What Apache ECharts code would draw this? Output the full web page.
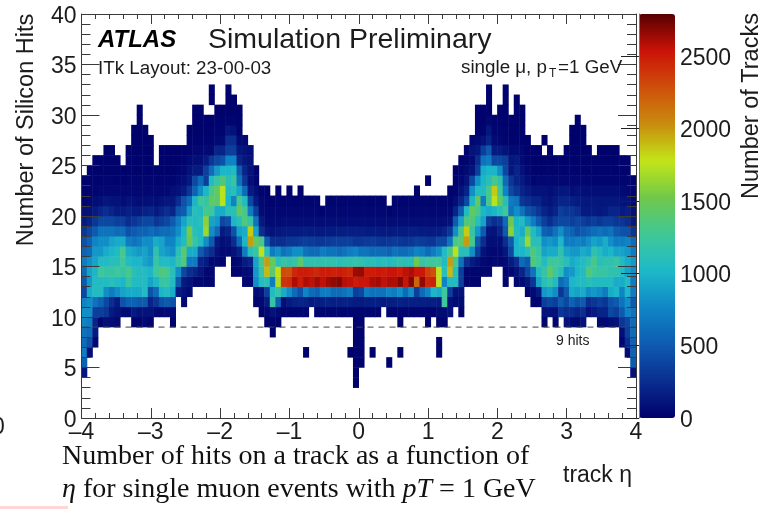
<!DOCTYPE html>
<html><head><meta charset="utf-8">
<style>html,body{margin:0;padding:0;background:#fff}#c{width:762px;height:509px}</style>
<script src="https://cdn.jsdelivr.net/npm/echarts@6/dist/echarts.min.js"></script></head>
<body><div id="c"></div>
<script>
// each full row lists 100 eta bins (width 0.08) from eta=-4; pair rows list [bin,count]
const row32=[[23,12],[26,12],[73,12],[76,12]];
const row31=[[23,12],[26,12],[27,12],[73,12],[76,12],[78,12]];
const row30=[[10,10],[20,12],[21,12],[24,15],[25,15],[26,15],[27,15],[28,12],[71,12],[72,12],[73,15],[75,15],[76,15],[78,12],[79,10]];
const row29=[[10,10],[20,12],[21,12],[22,12],[23,15],[24,20],[25,20],[26,25],[27,25],[28,15],[71,12],[72,15],[73,40],[74,20],[75,20],[76,15],[77,12],[78,12],[79,10],[89,10]];
const row28=[[9,10],[10,10],[11,10],[19,10],[20,15],[21,15],[22,15],[23,20],[24,25],[25,30],[26,120],[27,100],[28,20],[71,15],[72,30],[73,120],[74,30],[75,25],[76,20],[77,15],[78,15],[79,10],[88,10],[89,10],[90,10]];
const row27=[[9,10],[10,10],[11,10],[12,10],[19,15],[20,20],[21,20],[22,25],[23,30],[24,50],[25,60],[26,250],[27,250],[28,60],[29,50],[70,40],[71,60],[72,100],[73,200],[74,60],[75,40],[76,30],[77,20],[78,20],[79,15],[80,10],[83,10],[88,10],[89,10],[90,10]];
const row26=[0,0,0,0,10,10,0,0,10,10, 10,10,10,0,10,10,10,10,15,20, 40,40,60,50,200,200,350,350,120,100, 80,0,0,0,0,0,0,0,0,0, 0,0,0,0,0,0,0,0,0,0, 0,0,0,0,0,0,0,0,0,0, 0,0,0,0,0,0,0,0,0,15, 100,120,350,500,150,150,100,60,60,40, 15,12,10,0,10,0,0,10,10,10, 10,10,0,10,10,10,10,0,0,0];
const row25=[0,0,12,12,12,12,12,0,12,12, 12,12,12,0,12,12,12,12,20,50, 80,80,150,300,400,450,750,750,200,120, 100,0,0,0,0,0,0,0,0,0, 0,0,0,0,0,0,0,0,0,0, 0,0,0,0,0,0,0,0,0,0, 0,0,0,0,0,0,0,0,15,30, 60,250,650,700,400,400,350,120,150,60, 20,15,15,15,15,12,12,15,15,15, 15,15,12,12,12,12,12,12,12,0];
const row24=[0,15,15,15,15,15,15,15,15,15, 15,15,15,15,15,15,15,30,40,100, 150,150,350,600,850,1000,1000,1050,500,200, 100,15,0,0,0,0,0,0,0,0, 0,0,0,0,0,0,0,0,0,0, 0,0,0,0,0,0,0,0,0,0, 0,0,0,0,0,0,0,15,30,60, 100,350,950,1000,1000,800,400,120,200,100, 40,20,20,20,20,20,20,20,20,20, 20,20,20,20,20,20,15,15,15,0];
const row23=[10,15,20,20,25,25,20,20,25,25, 25,25,25,20,25,25,30,60,80,150, 400,600,350,1050,1200,1350,1100,1200,650,300, 80,20,0,0,0,0,0,0,0,0, 0,0,0,0,0,0,0,0,0,0, 0,0,0,0,0,0,0,0,0,0, 0,0,10,0,0,0,0,15,40,100, 400,800,1000,1100,1300,1150,600,300,200,150, 80,30,50,40,40,40,40,40,40,40, 40,35,30,30,30,30,30,30,25,20];
const row22=[20,20,30,40,40,40,40,40,40,40, 40,40,40,40,40,50,80,100,150,300, 550,800,1000,1300,1450,1750,1050,1100,900,600, 150,80,20,15,0,15,0,15,0,15, 0,0,0,0,0,0,0,0,0,0, 0,0,0,0,0,0,0,0,0,0, 15,0,0,0,0,0,15,30,100,200, 800,1050,1050,1300,1850,1250,750,400,300,200, 150,100,100,100,80,100,120,130,80,100, 80,80,80,80,80,80,80,60,50,30];
const row21=[30,50,70,90,120,100,100,70,100,90, 70,80,90,80,100,120,120,250,450,600, 1000,1250,1200,1450,1400,1750,1000,750,1300,1050, 400,150,50,30,20,25,20,25,20,25, 25,25,25,0,25,25,25,25,25,25, 25,25,25,25,25,0,25,25,25,25, 25,25,25,25,25,25,25,80,200,400, 1000,1450,700,1300,1750,1450,1100,700,650,300, 250,200,200,120,100,150,200,200,170,150, 130,120,130,120,120,120,120,100,100,50];
const row20=[100,100,150,200,250,200,150,150,180,150, 150,180,200,150,200,250,200,450,500,850, 1100,1050,1300,1250,950,950,1100,1100,1450,1300, 700,350,60,40,40,40,40,40,40,40, 40,40,40,20,40,40,40,40,40,40, 40,40,40,40,40,20,40,40,40,40, 40,40,40,40,40,40,50,200,500,1050, 1450,1300,1000,950,1000,1100,1250,650,800,650, 450,400,300,200,150,200,350,300,300,250, 150,150,150,130,150,200,200,150,170,100];
const row19=[150,200,300,400,400,400,350,350,250,300, 350,400,400,300,350,400,500,700,900,1100, 1050,1100,1600,900,850,400,450,1000,1100,1350, 1200,650,130,60,60,60,70,70,70,70, 70,70,70,70,70,70,70,70,70,70, 70,70,70,70,70,70,70,70,70,70, 70,70,70,70,70,80,100,500,900,1350, 1350,1100,900,350,250,300,600,1500,1000,1050, 850,700,500,350,250,350,400,400,350,400, 350,300,350,300,350,350,300,300,250,150];
const row18=[300,400,500,650,650,650,600,600,450,500, 550,550,600,550,600,600,650,800,1000,1550, 1100,1050,1650,800,600,150,200,450,900,950, 1850,900,250,120,100,120,140,150,150,150, 160,150,140,140,150,150,160,160,170,170, 160,150,150,150,140,140,150,150,150,160, 160,150,150,150,150,200,300,800,1300,1850, 1200,850,500,120,100,200,500,1600,1050,950, 1450,1050,900,550,500,650,800,600,550,450, 500,550,600,650,600,650,500,450,450,300];
const row17=[450,550,750,800,800,900,950,950,700,650, 700,800,800,950,900,750,750,950,1050,1500, 1200,1050,800,500,150,80,100,250,600,1000, 1980,1450,1300,500,250,250,250,300,300,320, 350,320,300,300,320,350,350,350,350,300, 300,320,330,300,280,300,320,300,280,300, 350,320,300,300,400,400,650,1300,1400,1980, 1300,500,250,80,80,80,250,500,1000,1100, 1650,1100,1100,800,850,800,1000,700,700,750, 700,800,900,850,950,800,700,700,750,600];
const row16=[550,600,850,850,950,1000,1050,1300,950,900, 850,900,800,1150,900,850,800,1100,1400,950, 950,500,350,250,100,50,60,100,180,700, 1100,1200,1750,1100,700,800,650,700,800,800, 650,600,600,700,650,650,600,650,700,750, 650,650,600,600,600,550,650,600,600,650, 750,700,600,700,800,1050,1300,1750,1100,1100, 800,350,100,50,40,60,120,400,1000,1000, 1100,1350,1200,900,950,950,1150,900,850,850, 950,900,1150,1050,950,1000,900,900,850,700];
const row15=[700,800,900,1050,1050,1100,1100,1250,1050,1000, 1000,900,850,1200,1050,1050,1000,1200,1350,700, 700,200,150,50,50,30,0,30,50,150, 200,900,1300,1980,1450,1100,1200,1150,1200,1400, 1150,1150,1150,1150,1150,1150,1100,1150,1150,1180, 1150,1100,1100,1050,1100,1050,1100,1150,1100,1100, 1500,1200,1250,1250,1250,1050,1980,1300,650,250, 150,100,50,30,40,40,60,150,250,600, 500,1350,1250,1050,1250,1250,1200,1100,950,1000, 1050,1150,1300,1100,1150,1150,1200,1050,950,850];
const row14=[600,900,1000,1250,1200,1200,1250,1200,1300,1100, 1050,1050,1000,1250,1350,1300,1100,800,400,250, 200,120,40,40,0,0,0,30,30,60, 80,850,1200,1900,1400,1800,2300,2280,2450,2500, 2500,2480,2450,2500,2500,2480,2500,2480,2450,2640, 2650,2500,2500,2520,2500,2530,2530,2500,2560,2600, 2520,2520,2350,2280,1750,1100,1900,1100,350,30, 30,30,30,30,0,0,30,40,100,200, 400,650,1050,1200,1450,1250,1100,800,850,1000, 1050,1350,1250,1200,1200,1150,1150,1050,900,800];
const row13=[500,850,1050,1050,1050,1100,1050,1000,1200,1050, 1050,1050,900,1000,1200,1200,1050,500,150,100, 40,40,30,30,0,0,0,0,0,40, 40,800,1050,1100,700,1700,2400,2420,2600,2500, 2600,2560,2630,2560,2630,2660,2690,2580,2560,2500, 2530,2530,2600,2630,2560,2600,2600,2690,2530,2690, 2200,2660,2450,2480,1750,750,1050,1050,350,20, 20,20,0,0,0,0,30,0,40,60, 120,300,900,1100,1200,1050,600,700,1000,1050, 1050,1100,1050,1050,1050,1050,950,950,1050,700];
const row12=[400,950,1050,1050,800,700,800,900,950,950, 950,1050,450,600,1000,1050,950,150,100,60, 0,0,0,0,0,0,0,0,0,0, 0,60,100,350,1050,1200,950,800,600,450, 750,600,550,700,700,600,600,650,700,350, 400,700,650,650,650,750,700,800,600,800, 350,600,750,1000,950,1250,350,100,100,0, 0,0,0,0,0,0,0,0,0,0, 20,60,150,850,900,800,300,500,950,900, 950,800,850,800,700,950,1000,750,1000,700];
const row11=[750,800,650,550,400,250,150,450,550,550, 500,500,200,300,450,500,450,0,50,0, 0,0,0,0,0,0,0,0,0,0, 0,20,50,150,1200,550,80,150,180,200, 180,150,160,170,180,170,170,180,170,150, 150,160,170,170,150,160,170,180,170,170, 170,170,160,170,150,1250,100,60,60,0, 0,0,0,0,0,0,0,0,0,0, 0,30,30,350,400,350,500,400,550,450, 500,250,300,350,300,450,500,650,800,500];
const row10=[800,800,350,350,300,150,100,60,60,150, 100,100,100,60,50,60,60,0,0,0, 0,0,0,0,0,0,0,0,0,0, 0,0,20,50,100,60,30,30,35,35, 30,0,30,30,30,30,30,30,30,30, 30,30,30,30,0,30,30,30,30,30, 30,30,30,30,60,60,100,0,20,0, 0,0,0,0,0,0,0,0,0,0, 0,0,0,100,100,100,300,250,250,200, 250,100,150,200,200,400,350,500,750,650];
const row9=[[0,750],[1,700],[2,200],[3,30],[4,80],[5,70],[6,50],[9,30],[10,30],[11,60],[12,30],[16,20],[33,10],[34,30],[35,10],[49,20],[50,20],[57,10],[62,10],[64,20],[65,20],[83,30],[85,30],[87,100],[88,60],[89,50],[90,100],[93,60],[94,60],[95,80],[96,100],[97,300],[98,400],[99,600]];
const row8=[[0,650],[1,600],[2,150],[34,10],[49,20],[50,20],[97,80],[98,350],[99,600]];
const row7=[[0,600],[1,450],[2,40],[49,20],[50,20],[64,15],[97,30],[98,250],[99,550]];
const row6=[[0,700],[1,80],[40,10],[48,10],[49,20],[50,20],[52,10],[57,10],[64,15],[98,60],[99,550]];
const row5=[[0,550],[49,15],[50,15],[55,10],[99,500]];
const row4=[[0,120],[49,10],[99,100]];
const row3=[[49,10]];
const hitRows=[row3,row4,row5,row6,row7,row8,row9,row10,row11,row12,row13,row14,row15,row16,row17,row18,row19,row20,row21,row22,row23,row24,row25,row26,row27,row28,row29,row30,row31,row32];
const firstHitRow=3;
const barTicks=[0,500,1000,1500,2000,2500];
const hitLimit=[[-4,9],[4,9]];
const maxTracks=2790;
const barColors=['#00006b','#0a2e90','#0e5bb0','#0f86c6','#1db9c9','#40c896','#70c84a','#c3e517','#c88c0e','#cf4f0a','#cb1208','#560000'];

const cells=[];
hitRows.forEach((r,i)=>{
  const k=i+firstHitRow;
  if(Array.isArray(r[0])) r.forEach(p=>cells.push([p[0],k,p[1]]));
  else r.forEach((v,c)=>{if(v>0)cells.push([c,k,v]);});
});
const etaBins=Array.from({length:100},(_,i)=>String(i));
const hitBins=Array.from({length:40},(_,i)=>String(i));
const G={left:81.5,top:14,width:554.5,height:404};
const F='"Liberation Sans",Arial,sans-serif', S='"Liberation Serif",serif';
const INK='#3a3a3a';
const frame={show:true,lineStyle:{color:INK,width:1}};
const lab=(x)=>({color:'#1c1c1c',fontSize:23,fontFamily:F,...x});
const low={a:{color:'#1c1c1c',fontSize:23,fontFamily:F,padding:[5,0,0,0]}};
const mkX=(pos,show)=>({type:'value',gridIndex:1,position:pos,min:-4,max:4,interval:1,z:5,splitLine:{show:false},
  axisLine:{...frame,onZero:false},axisTick:{inside:true,length:10,lineStyle:{color:INK}},
  minorTick:{show:true,splitNumber:5,length:5,lineStyle:{color:INK}},
  axisLabel:lab({show:show,margin:3,formatter:v=>String(v).replace('-','–')})});
const mkY=(pos,show)=>({type:'value',gridIndex:1,position:pos,min:0,max:40,interval:5,z:5,splitLine:{show:false},
  axisLine:{...frame,onZero:false},axisTick:{inside:true,length:18,lineStyle:{color:INK}},
  minorTick:{show:true,splitNumber:5,length:9,lineStyle:{color:INK}},
  axisLabel:lab({show:show,margin:5,formatter:v=>'{a|'+v+'}',rich:low})});
const txt=(x,y,t,st)=>({type:'text',x,y,z:20,style:{text:t,fill:'#1c1c1c',font:'23px '+F,verticalAlign:'middle',...st}});
const chart=echarts.init(document.getElementById('c'));
chart.setOption({
  animation:false,
  grid:[G,G,{left:639,top:14,width:36,height:404}],
  xAxis:[
    {type:'category',gridIndex:0,data:etaBins,show:false},
    mkX('bottom',true),mkX('top',false),
    {type:'value',gridIndex:2,show:false,min:0,max:1}
  ],
  yAxis:[
    {type:'category',gridIndex:0,data:hitBins,show:false},
    mkY('left',true),mkY('right',false),
    {type:'value',gridIndex:2,position:'right',min:0,max:maxTracks,z:5,splitLine:{show:false},
     axisLine:{show:true,lineStyle:{color:'#777'}},
     axisTick:{inside:true,length:18,lineStyle:{color:'#222'},customValues:barTicks},
     axisLabel:lab({margin:5,customValues:barTicks,formatter:v=>'{a|'+v+'}',rich:low})}
  ],
  visualMap:{type:'continuous',seriesIndex:0,min:0,max:maxTracks,left:639,top:14,padding:0,itemWidth:36,itemHeight:404,borderRadius:0,
    orient:'vertical',calculable:false,text:null,showLabel:false,inRange:{color:barColors},textStyle:{color:'rgba(0,0,0,0)',fontSize:1}},
  series:[
    {type:'heatmap',xAxisIndex:0,yAxisIndex:0,data:cells,progressive:0,itemStyle:{borderWidth:0},emphasis:{disabled:true}},
    {type:'line',xAxisIndex:1,yAxisIndex:1,data:hitLimit,symbol:'none',z:4,silent:true,lineStyle:{color:'#444',width:1,type:[6,5]}}
  ],
  graphic:[
    txt(98,40,'ATLAS',{font:'italic bold 24px '+F,fill:'#000'}),
    txt(208,40,'Simulation Preliminary',{font:'28.5px '+F}),
    txt(98,69,'ITk Layout: 23-00-03',{font:'18.8px '+F}),
    txt(461,68,'single μ, p',{font:'18.8px '+F}),
    txt(549,74,'T',{font:'12px '+F}),
    txt(558,68,'=1 GeV',{font:'18.8px '+F}),
    txt(556,341,'9 hits',{font:'14px '+F}),
    txt(563,476,'track η',{font:'23px '+F}),
    {type:'text',x:27,y:130,rotation:Math.PI/2,z:20,style:{text:'Number of Silicon Hits',fill:'#1c1c1c',font:'23.5px '+F,align:'center',verticalAlign:'middle'}},
    {type:'text',x:752,y:106,rotation:Math.PI/2,z:20,style:{text:'Number of Tracks',fill:'#1c1c1c',font:'23.5px '+F,align:'center',verticalAlign:'middle'}},
    txt(62,457,'Number of hits on a track as a function of',{font:'28px '+S,fill:'#111'}),
    {type:'text',x:62,y:490,z:20,style:{text:'{i|η} for single muon events with {i|pT} = 1 GeV',fill:'#111',font:'28px '+S,verticalAlign:'middle',
      rich:{i:{font:'italic 28px '+S,fill:'#111'}}}},
    txt(-8,428,'0',{font:'23px '+F}),
    {type:'rect',z:1,shape:{x:0,y:506,width:68,height:3},style:{fill:'#ffd6d6'}}
  ]
});
</script></body></html>
